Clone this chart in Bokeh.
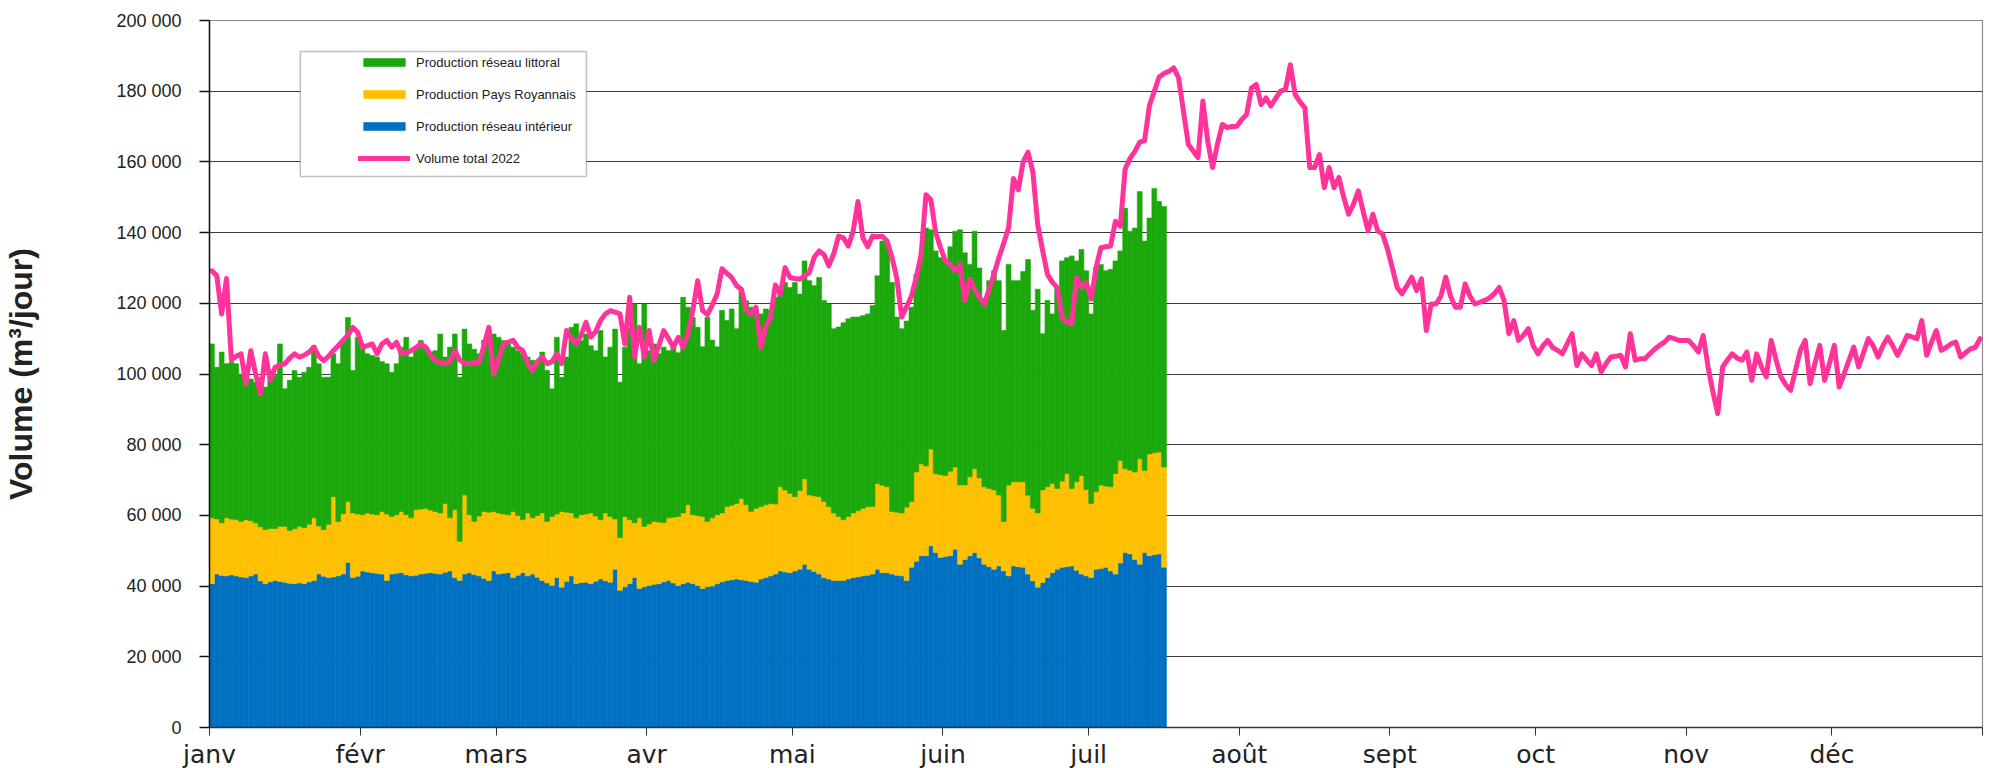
from bokeh.plotting import figure
from bokeh.models import (ColumnDataSource, Range1d, FixedTicker, Legend,
                          LegendItem, BoxAnnotation)
from bokeh.embed import file_html
from bokeh.resources import INLINE

# ---------------- data (thousands of m3 per day) ----------------
interieur = [
    40.7, 43.4, 43.0, 42.9, 43.2, 42.9, 42.6, 42.4, 42.9, 43.4,
    41.5, 40.7, 41.2, 41.6, 41.3, 41.1, 40.8, 40.7, 40.9, 40.7,
    41.2, 41.6, 43.4, 42.8, 42.4, 42.6, 42.9, 43.4, 46.7, 42.4,
    42.8, 44.3, 44.0, 43.8, 43.6, 43.4, 41.6, 43.4, 43.6, 43.8,
    43.2, 42.9, 43.1, 43.4, 43.6, 43.8, 43.6, 43.4, 43.9, 44.3,
    42.4, 41.6, 43.4, 43.8, 43.3, 42.9, 42.2, 41.6, 44.3, 43.4,
    43.6, 43.8, 42.4, 43.1, 43.8, 42.9, 43.4, 42.5, 41.6, 40.9,
    40.2, 42.4, 39.7, 41.3, 42.9, 40.7, 41.0, 41.1, 40.7, 41.4,
    42.0, 41.5, 41.1, 44.8, 38.8, 39.8, 40.7, 42.4, 39.3, 39.8,
    40.2, 40.5, 40.7, 41.2, 41.6, 40.9, 40.2, 40.7, 41.1, 40.7,
    40.2, 39.3, 39.8, 40.0, 40.7, 41.2, 41.6, 41.8, 42.0, 41.8,
    41.6, 41.3, 41.1, 42.0, 42.4, 42.9, 43.4, 44.3, 44.0, 43.8,
    44.3, 44.8, 46.2, 44.8, 44.1, 43.4, 42.4, 42.0, 41.6, 41.6,
    41.6, 42.0, 42.4, 42.6, 42.9, 43.1, 43.4, 44.8, 43.8, 43.8,
    43.4, 43.1, 42.9, 41.6, 45.3, 47.0, 48.6, 48.6, 51.4, 49.5,
    48.1, 48.4, 48.6, 50.4, 46.2, 47.5, 48.6, 49.5, 48.0, 46.2,
    45.5, 44.8, 45.7, 44.3, 42.9, 45.7, 45.5, 45.3, 43.4, 41.5,
    39.7, 41.0, 42.4, 43.8, 44.8, 45.3, 45.5, 45.7, 44.5, 43.4,
    42.9, 42.4, 44.8, 45.0, 45.3, 44.3, 43.4, 46.5, 49.5, 49.1,
    47.5, 46.2, 49.5, 48.6, 48.9, 49.1, 45.3,
]

royannais = [
    18.6, 15.6, 14.9, 16.4, 15.8, 15.9, 15.7, 16.4, 15.6, 14.5,
    15.3, 15.3, 15.1, 14.7, 15.6, 15.8, 14.9, 15.5, 16.0, 15.8,
    16.3, 17.7, 13.6, 13.2, 15.1, 22.7, 15.4, 17.1, 17.2, 18.3,
    17.6, 15.9, 16.7, 16.6, 16.6, 17.7, 18.8, 16.3, 16.6, 17.3,
    17.0, 16.4, 18.5, 18.4, 18.4, 17.7, 17.5, 17.3, 19.5, 15.0,
    19.2, 11.1, 22.4, 16.4, 15.0, 16.9, 18.9, 19.3, 16.8, 17.3,
    16.8, 16.4, 18.7, 16.9, 15.0, 17.8, 15.9, 17.5, 19.1, 17.4,
    19.5, 18.0, 21.4, 19.6, 17.8, 18.6, 19.2, 19.3, 20.0, 18.4,
    16.8, 19.2, 18.6, 14.2, 14.9, 19.9, 18.1, 15.5, 20.0, 17.1,
    17.4, 17.8, 17.4, 16.7, 17.7, 18.6, 19.5, 20.0, 21.9, 19.5,
    19.8, 20.4, 18.5, 19.3, 19.5, 19.5, 20.9, 21.1, 21.4, 23.0,
    21.4, 19.8, 20.9, 20.5, 20.6, 20.5, 19.8, 23.8, 23.2, 22.4,
    21.0, 22.2, 24.2, 21.0, 21.4, 21.9, 21.5, 20.5, 19.1, 18.1,
    17.2, 17.7, 18.3, 18.7, 19.1, 19.4, 19.1, 24.2, 24.7, 24.3,
    17.7, 17.8, 17.8, 20.7, 18.6, 25.3, 26.0, 25.4, 27.4, 22.3,
    23.4, 22.9, 23.9, 23.3, 22.4, 21.1, 22.3, 23.7, 22.6, 21.9,
    22.1, 22.4, 20.1, 14.0, 25.7, 23.8, 24.0, 24.2, 22.3, 20.5,
    21.0, 26.2, 25.7, 25.2, 22.8, 24.4, 26.3, 21.9, 25.0, 27.9,
    24.4, 21.0, 21.9, 23.6, 23.0, 23.8, 28.4, 29.0, 23.7, 23.7,
    24.8, 29.8, 23.2, 28.8, 28.8, 28.8, 28.4,
]

littoral = [
    49.2, 42.9, 48.3, 43.6, 44.3, 44.1, 41.7, 38.4, 40.1, 39.8,
    42.2, 40.3, 41.9, 43.3, 51.6, 38.9, 42.5, 44.8, 42.2, 44.0,
    44.4, 48.7, 45.9, 43.1, 41.6, 40.4, 44.6, 48.5, 52.1, 40.3,
    50.0, 47.4, 45.0, 44.8, 44.6, 42.4, 42.5, 40.8, 42.7, 46.5,
    50.2, 45.5, 45.4, 47.7, 45.6, 44.7, 45.5, 50.6, 41.4, 48.3,
    49.7, 46.4, 46.9, 48.3, 48.7, 45.9, 48.4, 51.4, 50.2, 49.7,
    49.1, 48.3, 46.5, 46.6, 46.9, 44.1, 44.6, 42.9, 45.5, 42.7,
    36.1, 50.0, 38.0, 43.9, 52.5, 54.9, 49.3, 50.9, 47.3, 46.8,
    53.5, 44.1, 47.9, 53.7, 44.0, 47.9, 54.2, 61.9, 43.6, 62.9,
    49.0, 50.2, 47.6, 49.7, 47.3, 48.1, 46.3, 61.0, 55.9, 55.8,
    53.2, 48.0, 57.7, 50.3, 47.5, 57.3, 52.6, 55.5, 49.4, 59.2,
    57.7, 57.8, 56.4, 54.5, 55.4, 54.6, 58.5, 55.9, 58.7, 58.3,
    60.6, 55.6, 61.6, 60.6, 59.5, 62.0, 56.9, 57.3, 52.1, 53.6,
    55.7, 55.9, 55.4, 54.8, 54.5, 54.5, 56.9, 58.8, 69.1, 69.0,
    64.8, 55.2, 52.1, 52.7, 55.0, 55.9, 58.3, 67.3, 62.0, 63.0,
    61.4, 60.7, 63.5, 66.7, 72.2, 65.7, 60.1, 67.2, 59.4, 52.7,
    58.8, 62.0, 60.6, 54.0, 62.4, 56.9, 56.9, 59.5, 66.7, 56.0,
    63.3, 44.2, 52.7, 48.0, 56.9, 62.3, 61.1, 65.8, 62.5, 63.9,
    61.9, 53.6, 63.4, 62.4, 60.9, 61.5, 60.2, 59.3, 73.7, 67.6,
    69.0, 75.6, 64.9, 66.7, 74.8, 70.9, 73.7,
]

volume_total_2022 = [
    129.2, 127.8, 117.0, 127.0, 104.0, 105.0, 105.7, 97.2, 106.6, 100.0,
    94.4, 105.7, 98.2, 101.9, 102.5, 102.9, 104.5, 105.7, 104.8, 105.3,
    106.2, 107.6, 105.0, 103.8, 105.0, 106.6, 108.0, 109.5, 111.0, 113.2,
    111.8, 107.6, 108.0, 108.5, 105.7, 108.5, 109.5, 107.6, 109.0, 105.7,
    106.0, 106.6, 107.5, 108.5, 107.6, 105.5, 103.8, 103.3, 102.9, 103.5,
    106.6, 104.0, 102.9, 103.0, 103.2, 103.3, 108.0, 113.2, 100.0, 104.0,
    108.5, 109.0, 109.5, 107.5, 106.6, 103.0, 101.0, 103.5, 104.8, 102.9,
    103.5, 105.7, 102.9, 112.3, 110.0, 108.5, 111.0, 114.6, 110.4, 112.0,
    115.1, 117.0, 117.9, 117.5, 117.0, 108.5, 121.7, 104.8, 113.2, 104.8,
    112.3, 103.8, 108.0, 112.3, 110.0, 107.6, 110.4, 107.6, 111.3, 118.0,
    126.4, 118.0, 116.8, 119.5, 122.6, 129.8, 128.5, 127.3, 125.0, 124.0,
    118.0, 117.0, 118.9, 107.5, 113.3, 116.0, 125.2, 122.6, 130.1, 127.3,
    127.0, 126.8, 127.8, 128.7, 133.0, 134.8, 133.8, 130.6, 134.0, 139.0,
    138.5, 136.2, 140.4, 148.8, 138.5, 136.0, 139.0, 138.8, 139.0, 137.6,
    133.0, 127.0, 116.1, 119.0, 122.0, 127.3, 133.8, 150.7, 149.3, 140.0,
    135.7, 132.0, 131.0, 129.2, 131.0, 120.8, 126.8, 124.0, 121.7, 119.8,
    124.0, 128.2, 132.9, 137.0, 141.3, 155.3, 152.1, 160.0, 162.8, 157.2,
    142.3, 135.0, 128.2, 126.0, 124.5, 116.0, 114.7, 114.2, 127.3, 124.5,
    125.9, 121.2, 130.0, 135.7, 136.0, 136.2, 143.2, 141.8, 158.0, 161.0,
    163.0, 165.6, 166.0, 176.0, 180.0, 184.0, 185.0, 185.6, 186.6, 183.8,
    174.4, 165.0, 163.1, 161.2, 177.2, 165.9, 158.4, 165.0, 170.6, 169.7,
    170.0, 170.1, 172.0, 173.4, 180.9, 181.9, 176.2, 178.1, 175.8, 178.0,
    180.0, 180.5, 187.5, 179.1, 177.0, 175.3, 158.4, 158.4, 162.1, 152.7,
    158.4, 152.7, 155.6, 150.0, 145.2, 148.0, 151.8, 146.0, 140.5, 145.2,
    140.5, 139.6, 135.4, 130.0, 124.5, 122.7, 125.0, 127.4, 123.6, 126.9,
    112.3, 119.8, 119.8, 122.0, 127.4, 122.0, 118.9, 118.9, 125.5, 122.0,
    119.8, 120.3, 120.8, 121.5, 122.7, 124.5, 120.8, 111.4, 115.1, 109.5,
    111.0, 112.8, 108.0, 105.7, 108.0, 109.5, 107.5, 106.7, 105.7, 108.5,
    111.4, 102.4, 105.7, 104.0, 102.4, 105.7, 100.6, 103.0, 104.8, 105.0,
    105.3, 102.0, 111.4, 103.9, 104.3, 104.3, 105.7, 107.0, 108.1, 109.0,
    110.4, 110.0, 109.5, 109.5, 109.5, 108.0, 106.2, 110.9, 102.0, 95.0,
    88.8, 102.0, 104.0, 105.7, 104.5, 103.9, 106.2, 98.2, 105.7, 102.0,
    99.2, 109.5, 104.0, 99.2, 97.0, 95.4, 101.0, 106.7, 109.5, 97.3,
    103.0, 108.1, 98.2, 103.0, 108.1, 96.3, 100.0, 103.9, 107.6, 102.0,
    106.0, 110.0, 108.0, 104.8, 108.0, 110.4, 108.0, 105.3, 108.0, 110.9,
    110.5, 110.0, 115.1, 105.3, 109.0, 112.3, 106.7, 107.5, 108.5, 109.0,
    104.8, 106.0, 107.1, 107.5, 110.0,
]

month_start_days = [0, 31, 59, 90, 120, 151, 181, 212, 243, 273, 304, 334, 365]
month_labels = ["janv", "févr", "mars", "avr", "mai", "juin", "juil",
                "août", "sept", "oct", "nov", "déc", ""]
y_ticks = [0, 20000, 40000, 60000, 80000, 100000, 120000, 140000,
           160000, 180000, 200000]
y_tick_labels = ["0", "20 000", "40 000", "60 000", "80 000", "100 000",
                 "120 000", "140 000", "160 000", "180 000", "200 000"]

series_names = ["Production réseau littoral", "Production Pays Royannais",
                "Production réseau intérieur", "Volume total 2022"]

# ---------------- styling ----------------
GREEN = "#1BA80B"
YELLOW = "#FFC000"
BLUE = "#0070C0"
PINK = "#FF3399"
TXT = "#222222"

n_bars = len(interieur)
bar_src = ColumnDataSource(dict(
    x=[i + 0.5 for i in range(n_bars)],
    interieur=[v * 1000 for v in interieur],
    royannais=[v * 1000 for v in royannais],
    littoral=[v * 1000 for v in littoral],
))
line_src = ColumnDataSource(dict(
    x=[i + 0.5 for i in range(len(volume_total_2022))],
    y=[v * 1000 for v in volume_total_2022],
))

p = figure(frame_width=1773, frame_height=707,
           min_border_left=209, min_border_right=6,
           min_border_top=20, min_border_bottom=41,
           x_range=Range1d(0, 365), y_range=Range1d(0, 200000),
           output_backend="svg", toolbar_location=None,
           background_fill_color="white", border_fill_color="white")

p.outline_line_color = "#8a8a8a"
p.outline_line_width = 1.2
p.xgrid.visible = False
p.ygrid.grid_line_color = "#3a3a3a"
p.ygrid.grid_line_width = 1.2

bars = p.vbar_stack(["interieur", "royannais", "littoral"], x="x", width=1.0,
                    fill_color=[BLUE, YELLOW, GREEN],
                    line_color=[BLUE, YELLOW, GREEN], line_width=0.6,
                    source=bar_src)
vol = p.line("x", "y", source=line_src, line_color=PINK, line_width=5,
             line_join="round", line_cap="round")

# y axis
p.yaxis.ticker = FixedTicker(ticks=y_ticks)
p.ygrid.ticker = FixedTicker(ticks=y_ticks)
p.yaxis.major_label_overrides = dict(zip(y_ticks, y_tick_labels))
p.yaxis.major_label_text_font = "Liberation Sans"
p.yaxis.major_label_text_font_size = "18px"
p.yaxis.major_label_text_color = TXT
p.yaxis.major_label_standoff = 18
p.yaxis.major_tick_out = 10
p.yaxis.major_tick_in = 0
p.yaxis.minor_tick_line_color = None
p.yaxis.axis_line_color = "#111111"
p.yaxis.axis_line_width = 1.5
p.yaxis.major_tick_line_color = "#111111"
p.yaxis.major_tick_line_width = 1.3
p.yaxis.axis_label = "Volume (m³/jour)"
p.yaxis.axis_label_text_font = "Liberation Sans"
p.yaxis.axis_label_text_font_style = "bold"
p.yaxis.axis_label_text_font_size = "32px"
p.yaxis.axis_label_text_color = TXT
p.yaxis.axis_label_standoff = 74

# x axis
p.xaxis.ticker = FixedTicker(ticks=month_start_days)
p.xaxis.major_label_overrides = dict(zip(month_start_days, month_labels))
p.xaxis.major_label_text_font = "DejaVu Sans"
p.xaxis.major_label_text_font_size = "25px"
p.xaxis.major_label_text_color = TXT
p.xaxis.major_label_standoff = 4
p.xaxis.major_tick_out = 8
p.xaxis.major_tick_in = 0
p.xaxis.minor_tick_line_color = None
p.xaxis.axis_line_color = "#333333"
p.xaxis.axis_line_width = 1.3
p.xaxis.major_tick_line_color = "#333333"

# legend frame
legend_box = BoxAnnotation(left=18.7, right=77.6, bottom=155900, top=191200,
                           fill_color="white", fill_alpha=1.0,
                           line_color="#333333", line_width=1.5)
p.add_layout(legend_box)

legend = Legend(items=[
    LegendItem(label=series_names[0], renderers=[bars[2]]),
    LegendItem(label=series_names[1], renderers=[bars[1]]),
    LegendItem(label=series_names[2], renderers=[bars[0]]),
    LegendItem(label=series_names[3], renderers=[vol]),
], location=(145, 553), orientation="vertical",
    glyph_width=52, glyph_height=10, label_standoff=6, spacing=8,
    padding=4, margin=0, label_height=24,
    border_line_alpha=0, background_fill_alpha=0,
    label_text_font="Liberation Sans", label_text_font_size="13px",
    label_text_color=TXT)
p.add_layout(legend)

open("out.html", "w").write(file_html(p, INLINE))
